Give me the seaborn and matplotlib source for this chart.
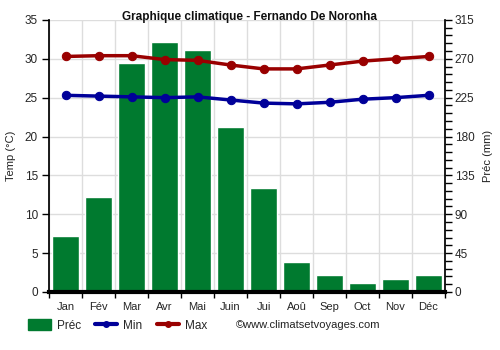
import matplotlib
matplotlib.use("Agg")
import matplotlib.pyplot as plt
import seaborn as sns
import pandas as pd
import numpy as np
from matplotlib.lines import Line2D
from matplotlib.patches import Patch
from matplotlib.ticker import FixedLocator

months = ["Jan", "Fév", "Mar", "Avr", "Mai", "Juin", "Jui", "Aoû", "Sep", "Oct", "Nov", "Déc"]
prec = [65, 110, 265, 290, 280, 191, 120, 35, 20, 10, 15, 20]
tmin = [25.3, 25.2, 25.1, 25.0, 25.1, 24.7, 24.3, 24.2, 24.4, 24.8, 25.0, 25.3]
tmax = [30.3, 30.4, 30.4, 29.9, 29.8, 29.2, 28.7, 28.7, 29.2, 29.7, 30.0, 30.3]

sns.set_theme(style="white")
plt.rcParams['font.family'] = ['Liberation Sans', 'DejaVu Sans']

green = "#007a2f"
blue = "#000099"
red = "#990000"

df = pd.DataFrame({"month": months, "prec": prec, "tmin": tmin, "tmax": tmax})
df["x"] = np.arange(len(months))

fig = plt.figure(figsize=(5, 3.5), dpi=100)
ax = fig.add_axes([0.098, 0.166, 0.792, 0.777])
ax2 = ax.twinx()
ax.set_axisbelow(True)

sns.barplot(data=df, x="month", y="prec", color=green, saturation=1, width=0.8, ax=ax, zorder=2)
ax.set_ylim(0, 315)
ax.set_xlim(-0.5, 11.5)
ax.yaxis.tick_right()
ax.yaxis.set_label_position("right")
ruler = np.arange(0, 316, 9)
ax.set_yticks(ruler, labels=[str(v) if v % 45 == 0 else "" for v in ruler])
ax.set_ylabel("Préc (mm)", fontsize=8, color="#222222", labelpad=6)
ax.set_xlabel("")

sns.lineplot(data=df, x="x", y="tmin", color=blue, lw=2.5, marker="o", markersize=6,
             markeredgecolor=blue, ax=ax2, zorder=5)
sns.lineplot(data=df, x="x", y="tmax", color=red, lw=2.5, marker="o", markersize=6,
             markeredgecolor=red, ax=ax2, zorder=5)
ax2.set_ylim(0, 35)
ax2.set_xlim(-0.5, 11.5)
ax2.yaxis.tick_left()
ax2.yaxis.set_label_position("left")
ax2.set_yticks(np.arange(0, 36, 5))
ax2.set_ylabel("Temp (°C)", fontsize=8, color="#222222", labelpad=6)
ax2.set_xlabel("")

# grid: horizontal from temp axis, vertical at category boundaries
for y in np.arange(5, 36, 5):
    ax.axhline(y * 9, color="#dddddd", lw=1, zorder=0)
ax.xaxis.set_minor_locator(FixedLocator(np.arange(-0.5, 12, 1)))
ax.grid(which="minor", axis="x", color="#dddddd", lw=1, zorder=0)
ax.set_xticks(np.arange(12))
ax.set_xticklabels(months)
ax.tick_params(axis="x", which="major", length=0, labelsize=8, pad=7)
ax.tick_params(axis="x", which="minor", length=4.5, color="black", width=1, direction="out", bottom=True)
ax.tick_params(axis="y", which="major", length=5, width=1, labelsize=8.5, color="black",
               direction="out", right=True, left=False, pad=2)
ax2.tick_params(axis="y", which="major", length=5, width=1, labelsize=8.5, color="black",
                direction="out", left=True, right=False, pad=3)

for a in (ax, ax2):
    for s in a.spines.values():
        s.set_visible(False)
ax2.spines["left"].set_visible(True)
ax2.spines["left"].set_color("black")
ax2.spines["right"].set_visible(True)
ax2.spines["right"].set_color("black")
ax.spines["bottom"].set_visible(True)
ax.spines["bottom"].set_color("black")
ax.spines["bottom"].set_linewidth(3)
ax.set_facecolor("white")
ax2.patch.set_visible(False)

fig.text(0.5, 0.951, "Graphique climatique - Fernando De Noronha", fontsize=8.5,
         fontweight="bold", ha="center", va="center", color="#111111")

handles = [Patch(facecolor=green, edgecolor=green),
           Line2D([0], [0], color=blue, lw=3, marker="o", markersize=4),
           Line2D([0], [0], color=red, lw=3, marker="o", markersize=4)]
fig.legend(handles, ["Préc", "Min", "Max"], loc="center left", bbox_to_anchor=(0.045, 0.07),
           ncol=3, frameon=False, fontsize=8.5, handlelength=1.9, handleheight=1.0,
           columnspacing=1.2, handletextpad=0.5, borderpad=0)
fig.text(0.472, 0.07, "©www.climatsetvoyages.com", fontsize=8, va="center", ha="left", color="#222222")

fig.savefig("out.png", dpi=100)
